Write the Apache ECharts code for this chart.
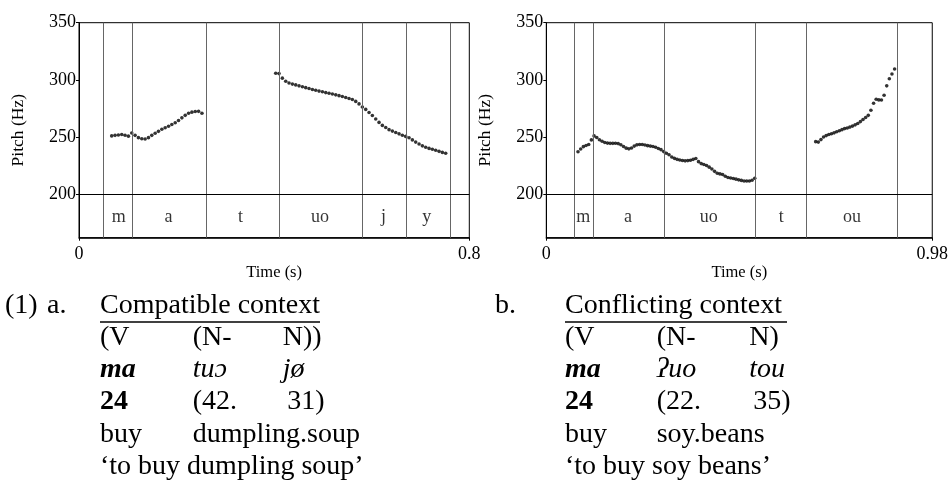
<!DOCTYPE html>
<html><head><meta charset="utf-8">
<script src="https://cdn.jsdelivr.net/npm/echarts@6/dist/echarts.min.js"></script>
<style>html,body{margin:0;padding:0;background:#fff}#c{width:951px;height:481px}</style>
</head><body><div id="c"></div>
<script>
// ---------- data ----------
const yTicks = [200, 250, 300, 350];
const leftXTicks = [0, 0.8];
const rightXTicks = [0, 0.98];

const leftBounds = [0.052, 0.111, 0.2556, 0.4064, 0.5815, 0.6668, 0.759];
const leftTierLabels = ['m', 'a', 't', 'uo', 'j', 'y'];
const rightBounds = [0.0697, 0.1183, 0.2968, 0.528, 0.6648, 0.8877];
const rightTierLabels = ['m', 'a', 'uo', 't', 'ou'];

const leftTimes1 = [0.0670,0.0739,0.0807,0.0876,0.0944,0.1013,0.1081,0.1150,0.1218,0.1287,0.1355,0.1424,0.1492,0.1561,0.1629,0.1698,0.1766,0.1835,0.1903,0.1972,0.2040,0.2109,0.2177,0.2246,0.2314,0.2383,0.2451,0.2520];
const leftPitch1 = [251,251.5,251.8,252.2,251.6,250.8,253.5,251.5,249.5,248.5,248.3,249.5,251.5,253.3,255,256.8,258.2,259.5,261,262.5,264.5,266.8,269,270.8,271.8,272.3,272.5,270.8];

const leftTimes2 = [0.4032,0.4100,0.4168,0.4237,0.4305,0.4374,0.4442,0.4510,0.4579,0.4647,0.4715,0.4784,0.4852,0.4920,0.4989,0.5057,0.5125,0.5194,0.5262,0.5330,0.5398,0.5467,0.5535,0.5603,0.5672,0.5740,0.5808,0.5877,0.5945,0.6013,0.6082,0.6150,0.6218,0.6287,0.6355,0.6423,0.6492,0.6560,0.6628,0.6696,0.6765,0.6833,0.6901,0.6970,0.7038,0.7106,0.7175,0.7243,0.7311,0.7380,0.7448,0.7516];
const leftPitch2 = [305.8,305.5,301.5,298.8,297.3,296.3,295.6,294.8,294.0,293.2,292.4,291.6,290.9,290.2,289.6,288.9,288.3,287.6,286.9,286.2,285.5,284.6,283.7,282.8,281.2,279,276.3,274.2,271.5,268.8,265.8,262.8,260.2,258.3,256.5,255.2,254,252.8,251.6,250.6,249.4,247.5,245.6,243.9,242.3,241.1,240.1,239.3,238.5,237.5,236.6,235.8];

const rightTimes1 = [0.0805,0.0873,0.0941,0.1009,0.1077,0.1145,0.1213,0.1281,0.1349,0.1417,0.1485,0.1553,0.1621,0.1689,0.1757,0.1825,0.1893,0.1961,0.2029,0.2097,0.2165,0.2233,0.2301,0.2369,0.2437,0.2505,0.2573,0.2641,0.2709,0.2777,0.2845,0.2913,0.2981,0.3049,0.3117,0.3185,0.3253,0.3321,0.3389,0.3457,0.3525,0.3593,0.3661,0.3729,0.3797,0.3865,0.3933,0.4001,0.4069,0.4137,0.4205,0.4273,0.4341,0.4409,0.4477,0.4545,0.4613,0.4681,0.4749,0.4817,0.4885,0.4953,0.5021,0.5089,0.5157,0.5225,0.5293];
const rightPitch1 = [237.2,239.6,241.6,242.6,243.5,247.5,251,249.6,247.6,246.3,245.3,244.7,244.5,244.5,244.6,244.3,243.3,241.7,240.3,239.7,240.4,242.1,243.2,243.5,243.5,243,242.5,242.1,241.7,241.1,240,239,237.3,235.8,234.5,232.6,231.4,230.5,229.9,229.5,229.2,229.4,229.7,230.5,231.2,228.5,226.8,226,225.1,223.7,222.1,220,218.3,217.8,217.3,215.7,214.7,214.2,213.8,213.2,212.6,212.1,211.6,211.6,211.6,212.2,214];

const rightTimes2 = [0.6840,0.6907,0.6974,0.7040,0.7107,0.7174,0.7241,0.7308,0.7374,0.7441,0.7508,0.7575,0.7642,0.7708,0.7775,0.7842,0.7909,0.7976,0.8042,0.8109,0.8176,0.8243,0.8310,0.8376,0.8443,0.8510,0.8577,0.8644,0.8710,0.8777,0.8844];
const rightPitch2 = [246,245.6,247.8,250.1,251.3,252.2,252.9,253.7,254.6,255.5,256.5,257.4,257.9,258.7,259.6,260.7,261.8,263.5,265.3,267.1,269,273.5,279.6,283,282.5,282.4,286.6,294.8,301,305.1,309.5];

// example text
const exNumA = ['(1)', 'a.'];
const exTitleA = 'Compatible context';
const exRowsA = [['(V', '(N-', 'N))'], ['ma', 'tuɔ', 'jø'], ['24', '(42.', '31)'], ['buy', 'dumpling.soup'], ['‘to buy dumpling soup’']];
const exNumB = ['b.'];
const exTitleB = 'Conflicting context';
const exRowsB = [['(V', '(N-', 'N)'], ['ma', 'ʔuo', 'tou'], ['24', '(22.', '35)'], ['buy', 'soy.beans'], ['‘to buy soy beans’']];

// ---------- layout / style ----------
const SERIF = '"Liberation Serif", "Times New Roman", serif';
const TIER_Y = 179.5;
const rowStyles = [
  ['normal', 'normal', 'normal'],
  ['italic bold', 'italic', 'italic'],
  ['bold', 'normal', 'normal'],
  ['normal', 'normal', 'normal'],
  ['normal', 'normal', 'normal']
];

function zip(ts, ps) { return ts.map((t, i) => [t, ps[i]]); }
function mids(b, labels) { return labels.map((l, i) => [(b[i] + b[i + 1]) / 2, TIER_Y, l]); }

function xAxisOf(idx, max, ticks) {
  return {
    gridIndex: idx, type: 'value', min: 0, max: max,
    name: 'Time (s)', nameLocation: 'middle', nameGap: 24,
    nameTextStyle: { fontFamily: SERIF, fontSize: 16.5, color: '#000' },
    axisLine: { lineStyle: { color: '#000', width: 1.5 } },
    axisTick: { show: true, customValues: ticks, length: 3, lineStyle: { color: '#000' } },
    axisLabel: { customValues: ticks, fontFamily: SERIF, fontSize: 18, color: '#000', margin: 8,
      formatter: v => String(v) },
    splitLine: { show: false }
  };
}
function yAxisOf(idx) {
  return {
    gridIndex: idx, type: 'value', min: 162, max: 350,
    name: 'Pitch (Hz)', nameLocation: 'middle', nameGap: 52,
    nameTextStyle: { fontFamily: SERIF, fontSize: 17.5, color: '#000' },
    axisLine: { show: true, lineStyle: { color: '#000', width: 1 } },
    axisTick: { show: true, customValues: yTicks, length: 3, lineStyle: { color: '#000' } },
    axisLabel: { customValues: yTicks, fontFamily: SERIF, fontSize: 18, color: '#000', margin: 3 },
    splitLine: { show: false }
  };
}
function pitchSeries(idx, data, bounds) {
  return {
    type: 'scatter', xAxisIndex: idx, yAxisIndex: idx, data: data,
    symbol: 'circle', symbolSize: 3.6, itemStyle: { color: '#000' },
    markLine: {
      silent: true, symbol: ['none', 'none'], label: { show: false },
      lineStyle: { type: 'solid', color: '#666', width: 1 },
      data: bounds.map(b => ({ xAxis: b })).concat([{ yAxis: 200, lineStyle: { color: '#000', width: 1 } }])
    }
  };
}
function tierSeries(idx, data) {
  return {
    type: 'scatter', xAxisIndex: idx, yAxisIndex: idx, data: data,
    symbolSize: 0, silent: true,
    label: { show: true, position: 'inside', formatter: p => p.value[2],
      fontFamily: SERIF, fontSize: 18, color: '#000' }
  };
}

// graphic text
const graphics = [];
function addText(txt, x, yBase, style, size) {
  graphics.push({ type: 'text', x: x, y: yBase - 9.5, silent: true,
    style: { text: txt, font: style + ' ' + size + 'px ' + SERIF, fill: '#000',
      verticalAlign: 'middle', textVerticalAlign: 'middle', align: 'left' } });
}
const baselines = [315, 347, 379, 411, 444, 476];
function addBlock(nums, numX, title, rows, cols, numRowOffset, underline) {
  nums.forEach((n, i) => addText(n, numX[i], baselines[0], 'normal', 28));
  addText(title, cols[0], baselines[0], 'normal', 28);
  graphics.push({ type: 'line', silent: true,
    shape: { x1: underline[0], y1: 322, x2: underline[1], y2: 322 },
    style: { stroke: '#000', lineWidth: 1.5 } });
  rows.forEach((r, ri) => r.forEach((w, ci) => {
    const x = cols[ci] + (ri === 2 && ci === 2 ? numRowOffset : 0);
    addText(w, x, baselines[ri + 1], rowStyles[ri][ci], 28);
  }));
}
addBlock(exNumA, [5, 47], exTitleA, exRowsA, [100, 192.7, 282.7], 4.5, [100, 320]);
addBlock(exNumB, [495], exTitleB, exRowsB, [565, 656.7, 749.3], 4, [565, 787]);

const chart = echarts.init(document.getElementById('c'), null, { renderer: 'canvas' });
chart.setOption({
  animation: false,
  backgroundColor: '#fff',
  grid: [
    { left: 79, top: 22.7, width: 390.3, height: 215, show: true, borderColor: '#000', borderWidth: 1, backgroundColor: 'transparent' },
    { left: 546.3, top: 22.7, width: 389.7, height: 215, show: true, borderColor: '#000', borderWidth: 1, backgroundColor: 'transparent' }
  ],
  xAxis: [xAxisOf(0, 0.8, leftXTicks), xAxisOf(1, 0.98, rightXTicks)],
  yAxis: [yAxisOf(0), yAxisOf(1)],
  series: [
    pitchSeries(0, zip(leftTimes1, leftPitch1).concat(zip(leftTimes2, leftPitch2)), leftBounds),
    tierSeries(0, mids(leftBounds, leftTierLabels)),
    pitchSeries(1, zip(rightTimes1, rightPitch1).concat(zip(rightTimes2, rightPitch2)), rightBounds),
    tierSeries(1, mids(rightBounds, rightTierLabels))
  ],
  graphic: graphics
});
</script></body></html>
